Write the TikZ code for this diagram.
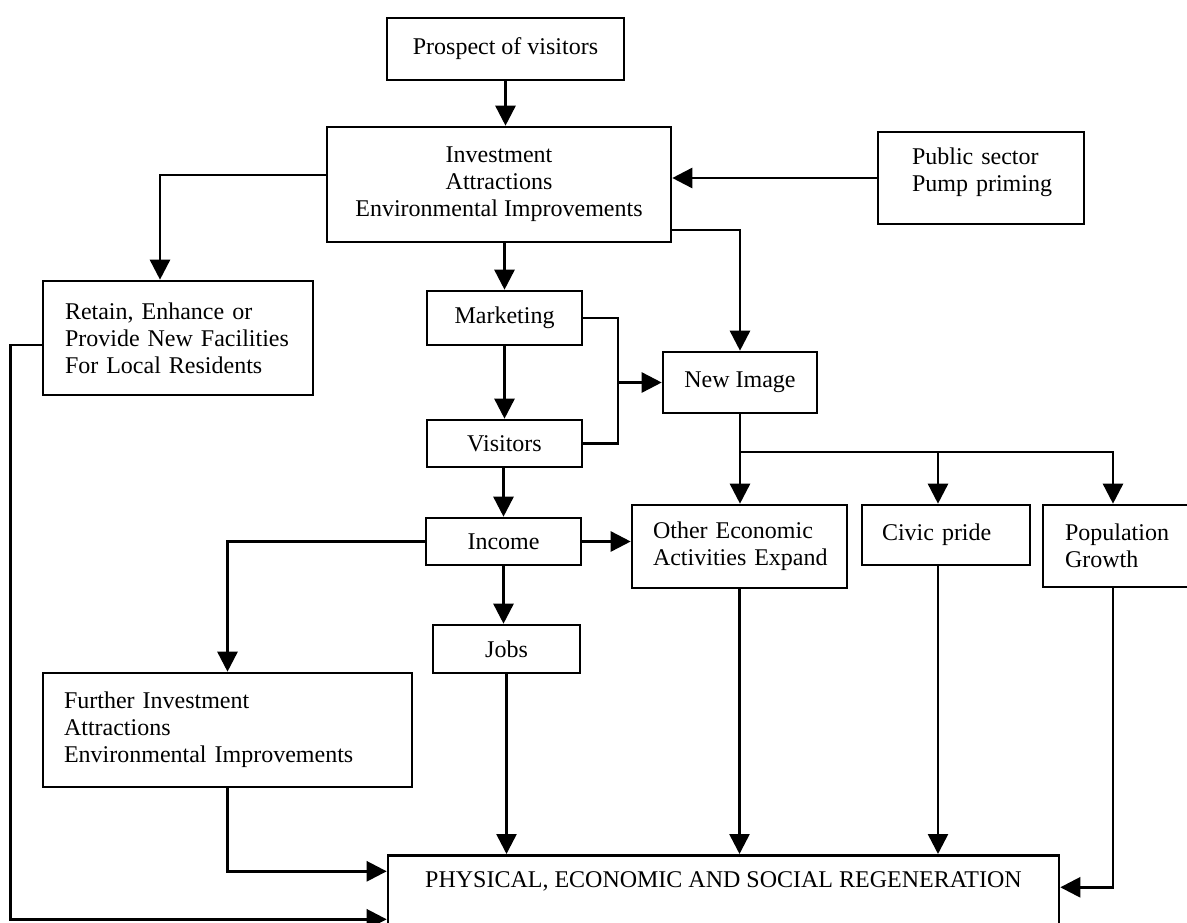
\documentclass[tikz,border=0pt]{standalone}
\usepackage{fontspec}
\setmainfont{Liberation Serif}
\usetikzlibrary{arrows.meta}
\begin{document}
\begin{tikzpicture}[x=1pt,y=-1pt,
  every node/.style={font=\fontsize{24}{27}\selectfont},
  box/.style={draw, line width=2.6pt, rectangle, inner sep=0pt, align=center},
  lbox/.style={box, align=left},
  link/.style={line width=2.6pt},
  arr/.style={link, -{Triangle[length=20pt,width=20pt]}},
]
\useasboundingbox (0,0) rectangle (1187,923);
\fill[white] (0,0) rectangle (1187,923);
\clip (0,0) rectangle (1187,923);

% boxes
\node[box, minimum width=237pt, minimum height=62pt] (pro) at (505.5,49) {Prospect of visitors};
\node[box, minimum width=344pt, minimum height=115pt] (inv) at (499,184.5)
  {Investment\\Attractions\\Environmental Improvements};
\node[lbox, text width=138pt, inner xsep=34pt, minimum height=92pt] (pub) at (981,178)
  {\mbox{Public sector}\\\mbox{Pump priming}\\[-11pt]\mbox{}};
\node[lbox, text width=226pt, inner xsep=22pt, minimum height=114pt] (ret) at (178,338)
  {\mbox{Retain, Enhance or}\\\mbox{Provide New Facilities}\\\mbox{For Local Residents}};
\node[box, minimum width=155pt, minimum height=54pt] (mkt) at (504.5,318) {Marketing};
\node[box, minimum width=155pt, minimum height=47pt] (vis) at (504.5,443.5) {Visitors};
\node[box, minimum width=154pt, minimum height=61pt] (img) at (740,382.5) {New Image};
\node[box, minimum width=155pt, minimum height=47pt] (inc) at (503.5,541.5) {Income};
\node[box, minimum width=147pt, minimum height=48pt] (job) at (506.5,649) {Jobs};
\node[lbox, text width=173pt, inner xsep=21pt, minimum height=83pt] (oth) at (739.5,546.5)
  {\mbox{Other Economic}\\\mbox{Activities Expand}};
\node[lbox, text width=128pt, inner xsep=20pt, minimum height=60pt] (civ) at (946,535)
  {\mbox{Civic pride}};
\node[lbox, text width=105pt, inner xsep=22pt, minimum height=82pt] (pop) at (1117.5,546)
  {\mbox{Population}\\\mbox{Growth}};
\node[lbox, text width=327pt, inner xsep=21pt, minimum height=114pt] (fur) at (227.5,730)
  {\mbox{Further Investment}\\\mbox{Attractions}\\\mbox{Environmental Improvements}};
\node[box, minimum width=671pt, inner ysep=8pt, text height=24pt, text depth=80pt,
      anchor=north] (phy) at (723.5,854)
  {PHYSICAL, ECONOMIC AND SOCIAL REGENERATION};

% junction points
\coordinate (mv) at (618,382.5);
\coordinate (fan) at (740,452);

% connectors
\draw[arr] (pro.south) -- (pro.south |- inv.north);
\draw[arr] (pub.west) -- (pub.west -| inv.east);
\draw[arr] ([yshift=9.5pt]inv.west) -| ([xshift=-18pt]ret.north);
\draw[arr] (inv.south -| mkt.north) -- (mkt.north);
\draw[arr] ([yshift=-45.5pt]inv.east) -| (img.north);
\draw[arr] (mkt.south) -- (vis.north);
\draw[link] (mkt.east) -| (mv) |- (vis.east);
\draw[arr] (mv) -- (img.west);
\draw[arr] (vis.south -| inc.north) -- (inc.north);
\draw[arr] (inc.east) -- (inc.east -| oth.west);
\draw[arr] (inc.west) -| (fur.north);
\draw[arr] (inc.south) -- (inc.south |- job.north);
\draw[arr] (img.south) -- (img.south |- oth.north);
\draw[arr] (fan) -| ([xshift=-4.5pt]pop.north);
\draw[arr] ([xshift=-8pt]civ.north |- fan) -- ([xshift=-8pt]civ.north);
\draw[arr] (job.south) -- (job.south |- phy.north);
\draw[arr] (oth.south) -- (oth.south |- phy.north);
\draw[arr] ([xshift=-8pt]civ.south) -- ([xshift=-8pt]civ.south |- phy.north);
\draw[arr] ([xshift=-4.5pt]pop.south) |- ([yshift=28pt]phy.east);
\draw[arr] (fur.south) |- ([yshift=44pt]phy.west);
\draw[arr] ([yshift=-7pt]ret.west) -- ++(-31pt,0) |- ([yshift=-4pt]phy.west);
\end{tikzpicture}
\end{document}
